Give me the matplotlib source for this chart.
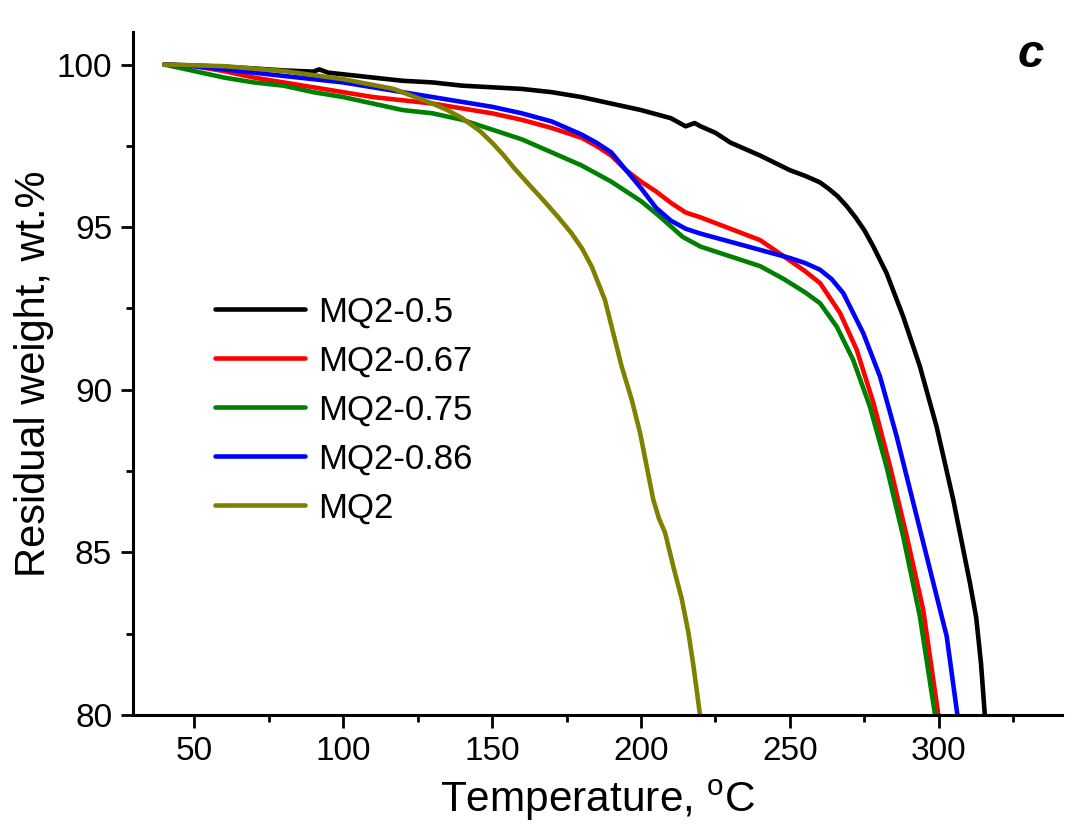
import matplotlib
matplotlib.use("Agg")
import matplotlib.pyplot as plt
from matplotlib.ticker import MultipleLocator

plt.rcParams['font.family'] = ['Liberation Sans', 'DejaVu Sans']
plt.rcParams['mathtext.fontset'] = 'custom'
plt.rcParams['mathtext.rm'] = 'Liberation Sans'

# ---- data ----
t_05 = [40, 50, 60, 70, 80, 90, 92, 95, 100, 110, 120, 130, 140, 150, 160, 170, 180, 190,
        200, 210, 215, 218, 220, 225, 230, 240, 250, 255, 260, 263, 266, 269, 272, 275,
        278, 282.4, 288, 293.6, 299.2, 304.8, 310.4, 312.5, 314.1, 315.4]
w_05 = [100, 99.97, 99.93, 99.88, 99.82, 99.78, 99.85, 99.75, 99.7, 99.6, 99.5, 99.45,
        99.35, 99.3, 99.25, 99.15, 99.0, 98.8, 98.6, 98.35, 98.1, 98.2, 98.1, 97.9, 97.6,
        97.2, 96.75, 96.58, 96.38, 96.18, 95.95, 95.65, 95.3, 94.9, 94.4, 93.59, 92.25,
        90.72, 88.87, 86.62, 84.06, 83.0, 81.6, 80.0]

t_067 = [40, 50, 60, 70, 80, 90, 100, 110, 120, 130, 140, 150, 160, 170, 180, 185, 190,
         195, 200, 205, 210, 215, 220, 230, 240, 248, 255, 260.1, 266.8, 272.4, 278,
         283.6, 289.2, 294.7, 299.8]
w_067 = [100, 99.95, 99.8, 99.6, 99.45, 99.3, 99.15, 99.0, 98.9, 98.8, 98.65, 98.5, 98.3,
         98.05, 97.75, 97.5, 97.2, 96.75, 96.4, 96.1, 95.75, 95.45, 95.3, 94.95, 94.6,
         94.1, 93.65, 93.28, 92.36, 91.23, 89.6, 87.64, 85.49, 83.24, 80.0]

t_075 = [40, 45, 50, 60, 70, 80, 90, 100, 110, 120, 130, 140, 150, 160, 170, 180, 190,
         200, 206, 214, 220, 230, 240, 248, 255, 260.1, 265.7, 271.2, 276.8, 282.4, 288,
         293.6, 298.7]
w_075 = [100, 99.9, 99.8, 99.6, 99.45, 99.35, 99.15, 99.0, 98.8, 98.6, 98.5, 98.3, 98.0,
         97.7, 97.3, 96.9, 96.4, 95.8, 95.35, 94.7, 94.4, 94.1, 93.8, 93.4, 93.0, 92.66,
         91.94, 90.92, 89.49, 87.64, 85.49, 83.03, 80.0]

t_086 = [40, 50, 60, 70, 80, 90, 100, 110, 120, 130, 140, 150, 160, 170, 180, 185, 190,
         195, 200, 205, 210, 215, 220, 230, 240, 250, 255, 260.1, 264, 267.9, 274.6, 280.2,
         285.8, 291.4, 297, 302.6, 306.2]
w_086 = [100, 99.95, 99.85, 99.75, 99.65, 99.55, 99.45, 99.3, 99.15, 99.0, 98.85, 98.7,
         98.5, 98.25, 97.85, 97.6, 97.3, 96.75, 96.2, 95.6, 95.2, 94.95, 94.8, 94.55, 94.3,
         94.05, 93.9, 93.69, 93.4, 92.97, 91.74, 90.41, 88.57, 86.52, 84.47, 82.42, 80.0]

t_mq2 = [40, 60, 80, 100, 117, 130, 135, 140, 143, 146, 150, 154, 157.1, 162, 167.2,
         172, 176.7, 180.3, 183.5, 187.9, 190.7, 193.5, 196.9, 199.7, 201.9, 204.1, 206,
         208.1, 210.8, 213.7, 215.9, 217.6, 219.8]
w_mq2 = [100, 99.95, 99.8, 99.55, 99.25, 98.8, 98.6, 98.35, 98.15, 97.95, 97.6, 97.2,
         96.85, 96.35, 95.83, 95.33, 94.81, 94.33, 93.78, 92.76, 91.74, 90.72, 89.69, 88.67,
         87.65, 86.63, 86.05, 85.6, 84.58, 83.56, 82.54, 81.51, 80.0]

series = [
    ("MQ2-0.5", t_05, w_05, "#000000"),
    ("MQ2-0.67", t_067, w_067, "#FF0000"),
    ("MQ2-0.75", t_075, w_075, "#008000"),
    ("MQ2-0.86", t_086, w_086, "#0000FF"),
    ("MQ2", t_mq2, w_mq2, "#808000"),
]

W, H = 1082, 831
L, R, B, T = 133, 1062, 715, 32
fig = plt.figure(figsize=(W/100, H/100), dpi=100)
ax = fig.add_axes([L/W, 1-B/H, (R-L)/W, (B-T)/H])

for name, t, w, c in series:
    ax.plot(t, w, color=c, lw=3.3, label=name, solid_capstyle='round',
            solid_joinstyle='round')

ax.set_xlim(29.5, 341.3)
ax.set_ylim(80, 101)
ax.xaxis.set_major_locator(MultipleLocator(50))
ax.xaxis.set_minor_locator(MultipleLocator(25))
ax.yaxis.set_major_locator(MultipleLocator(5))
ax.yaxis.set_minor_locator(MultipleLocator(2.5))

for s in ['top', 'right']:
    ax.spines[s].set_visible(False)
for s in ['left', 'bottom']:
    ax.spines[s].set_linewidth(2.2)

ax.tick_params(which='major', direction='out', length=9, width=2.0, labelsize=24, pad=6)
ax.tick_params(which='minor', direction='out', length=5, width=2.0)

ax.set_xlabel(r'Temperature, $^{\mathrm{o}}$C', fontsize=30.5, labelpad=8)
ax.set_ylabel('Residual weight, wt.%', fontsize=30, labelpad=2)

ax.text((1031-L)/(R-L), (B-66.7)/(B-T), 'c', transform=ax.transAxes, fontsize=34,
        fontweight='bold', fontstyle='italic', ha='center', va='baseline')

leg = ax.legend(loc='upper left', bbox_to_anchor=((215-L)/(R-L), (B-295.5)/(B-T)),
                frameon=False, fontsize=25, handlelength=2.6, handletextpad=0.37,
                labelspacing=0.46, borderpad=0, borderaxespad=0)

fig.savefig('out.png', dpi=100)
